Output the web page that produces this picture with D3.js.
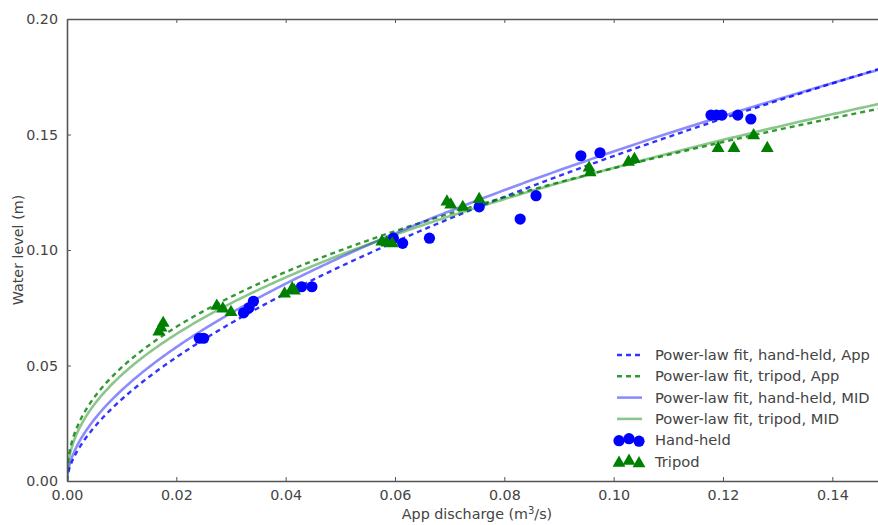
<!DOCTYPE html>
<html>
<head>
<meta charset="utf-8">
<script src="https://cdn.jsdelivr.net/npm/d3@7/dist/d3.min.js"></script>
<style>
  html, body { margin: 0; padding: 0; background: #fff; }
  svg { display: block; font-family: "DejaVu Sans", sans-serif; }
</style>
</head>
<body>
<svg id="chart" width="878" height="525"></svg>
<script>
// ---------- data ----------
const xTicks = [0.00, 0.02, 0.04, 0.06, 0.08, 0.10, 0.12, 0.14];
const yTicks = [0.00, 0.05, 0.10, 0.15, 0.20];

const handX = [0.0242, 0.0250, 0.0323, 0.0333, 0.0341, 0.0429, 0.0448, 0.0597, 0.0614, 0.0663, 0.0754, 0.0829, 0.0858, 0.0940, 0.0975, 0.1178, 0.1188, 0.1198, 0.1227, 0.1251];
const handY = [0.0618, 0.0618, 0.0728, 0.0750, 0.0778, 0.0841, 0.0841, 0.1051, 0.1029, 0.1051, 0.1187, 0.1134, 0.1235, 0.1408, 0.1421, 0.1584, 0.1584, 0.1584, 0.1584, 0.1567];

const triX = [0.0168, 0.0172, 0.0176, 0.0274, 0.0285, 0.0300, 0.0398, 0.0412, 0.0416, 0.0576, 0.0585, 0.0595, 0.0695, 0.0702, 0.0724, 0.0754, 0.0955, 0.0957, 0.1027, 0.1038, 0.1191, 0.1220, 0.1256, 0.1281];
const triY = [0.0650, 0.0668, 0.0688, 0.0762, 0.0750, 0.0735, 0.0815, 0.0838, 0.0828, 0.1040, 0.1036, 0.1032, 0.1213, 0.1200, 0.1190, 0.1224, 0.1360, 0.1340, 0.1385, 0.1397, 0.1445, 0.1445, 0.1500, 0.1445];

// power-law fits y = a * x^b
const fitNames = ["Power-law fit, hand-held, App", "Power-law fit, tripod, App", "Power-law fit, hand-held, MID", "Power-law fit, tripod, MID"];
const fitA = [0.560, 0.373, 0.518, 0.400];
const fitB = [0.60, 0.44, 0.56, 0.47];

// ---------- layout ----------
const svg = d3.select("#chart");
const L = 67, R = 887, T = 19, B = 481;
const x = d3.scaleLinear().domain([0, 0.15]).range([L, R]);
const y = d3.scaleLinear().domain([0, 0.20]).range([B, T]);

const textCol = "#444";
const spineCol = "#555";
const fs = "14.3px";
const legFs = "14.7px";

const fitStyles = [
  { color: "#0000ff", opacity: 0.8, width: 2.4, dash: "5,4" },
  { color: "#008000", opacity: 0.8, width: 2.4, dash: "5,4" },
  { color: "#0000ff", opacity: 0.45, width: 2.6, dash: null },
  { color: "#008000", opacity: 0.45, width: 2.6, dash: null }
];

svg.append("defs").append("clipPath").attr("id", "clip")
  .append("rect").attr("x", L).attr("y", T).attr("width", R - L).attr("height", B - T);

const plot = svg.append("g").attr("clip-path", "url(#clip)");

// fit curves
const xs = d3.range(0, 301).map(i => 0.15 * Math.pow(i / 300, 1.6));
const line = d3.line().x(d => x(d[0])).y(d => y(d[1]));
fitA.forEach((a, i) => {
  const b = fitB[i];
  const pts = xs.map(v => [v, a * Math.pow(v, b)]);
  const s = fitStyles[i];
  plot.append("path").datum(pts)
    .attr("d", line)
    .attr("fill", "none")
    .attr("stroke", s.color)
    .attr("stroke-opacity", s.opacity)
    .attr("stroke-width", s.width)
    .attr("stroke-dasharray", s.dash);
});

// markers
const tri = d3.symbol().type(d3.symbolTriangle).size(72);
const circR = 5.6;

plot.selectAll(".hand").data(handX.map((v, i) => [v, handY[i]]))
  .enter().append("circle")
  .attr("cx", d => x(d[0])).attr("cy", d => y(d[1]))
  .attr("r", circR).attr("fill", "#0000ff");

plot.selectAll(".tri").data(triX.map((v, i) => [v, triY[i]]))
  .enter().append("path")
  .attr("d", tri)
  .attr("transform", d => `translate(${x(d[0])},${y(d[1]) + 1})`)
  .attr("fill", "#008000");

// axes (matplotlib classic: ticks inward on all sides)
const tickLen = 4;
const axB = svg.append("g").attr("transform", `translate(0,${B})`)
  .call(d3.axisBottom(x).tickValues(xTicks).tickFormat(d3.format(".2f")).tickSizeInner(-tickLen).tickSizeOuter(0).tickPadding(9));
const axT = svg.append("g").attr("transform", `translate(0,${T})`)
  .call(d3.axisTop(x).tickValues(xTicks).tickFormat("").tickSizeInner(-tickLen).tickSizeOuter(0));
const axL = svg.append("g").attr("transform", `translate(${L},0)`)
  .call(d3.axisLeft(y).tickValues(yTicks).tickFormat(d3.format(".2f")).tickSizeInner(-tickLen).tickSizeOuter(0).tickPadding(9));
const axR = svg.append("g").attr("transform", `translate(${R},0)`)
  .call(d3.axisRight(y).tickValues(yTicks).tickFormat("").tickSizeInner(-tickLen).tickSizeOuter(0));

[axB, axT, axL, axR].forEach(g => {
  g.select(".domain").attr("stroke", spineCol).attr("stroke-width", 1.6);
  g.selectAll(".tick line").attr("stroke", spineCol).attr("stroke-width", 1);
  g.selectAll(".tick text").attr("fill", textCol).style("font-size", fs).style("font-family", "DejaVu Sans");
});

// axis labels
svg.append("text")
  .attr("transform", `translate(23,${(T + B) / 2}) rotate(-90)`)
  .attr("text-anchor", "middle")
  .attr("fill", textCol)
  .style("font-size", fs)
  .text("Water level (m)");

const xl = svg.append("text")
  .attr("x", (L + R) / 2).attr("y", 519)
  .attr("text-anchor", "middle")
  .attr("fill", textCol)
  .style("font-size", fs);
xl.append("tspan").text("App discharge (m");
xl.append("tspan").attr("dy", -5).style("font-size", "10px").text("3");
xl.append("tspan").attr("dy", 5).text("/s)");

// legend
const legX = 617, legTextX = 655, legY0 = 355, legDy = 21.3;
const leg = svg.append("g");
fitNames.forEach((name, i) => {
  const s = fitStyles[i];
  const yy = legY0 + i * legDy;
  leg.append("line")
    .attr("x1", legX).attr("x2", legX + 25).attr("y1", yy).attr("y2", yy)
    .attr("stroke", s.color).attr("stroke-opacity", s.opacity)
    .attr("stroke-width", s.width).attr("stroke-dasharray", s.dash);
  leg.append("text").attr("x", legTextX).attr("y", yy + 5)
    .attr("fill", textCol).style("font-size", legFs).text(name);
});
const markerNames = ["Hand-held", "Tripod"];
const mOff = [0.5, -1.5, 1];
markerNames.forEach((name, i) => {
  const yy = legY0 + (4 + i) * legDy;
  [0, 1, 2].forEach(k => {
    const cx = legX + 2 + k * 10;
    if (i === 0) {
      leg.append("circle").attr("cx", cx).attr("cy", yy + mOff[k]).attr("r", circR).attr("fill", "#0000ff");
    } else {
      leg.append("path").attr("d", tri).attr("transform", `translate(${cx},${yy + mOff[k] + 1})`).attr("fill", "#008000");
    }
  });
  leg.append("text").attr("x", legTextX).attr("y", yy + 5)
    .attr("fill", textCol).style("font-size", legFs).text(name);
});
</script>
</body>
</html>
